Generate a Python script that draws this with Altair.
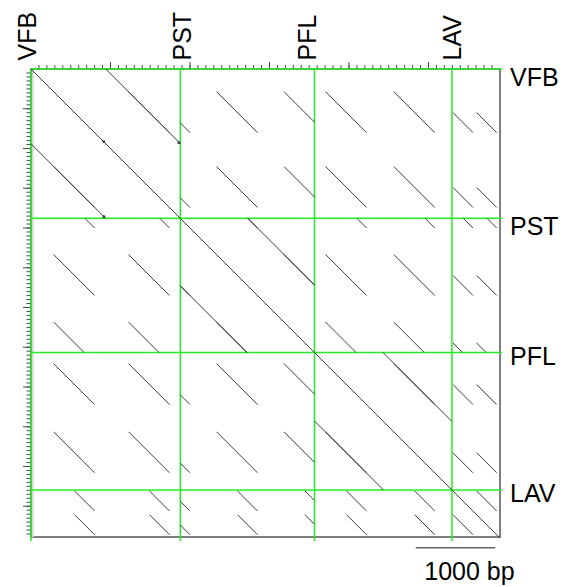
import altair as alt
import pandas as pd

# ---- data (bp) ----
block_names = ["VFB", "PST", "PFL", "LAV"]
block_starts = [0, 1878, 3566, 5295]
seq_length = 5900
y_extent = 5887

# repeated motif instances: motif end (anchor), visible start, visible end
motif_anchor = [800, 1742, 2000, 2849, 3698, 4221, 5079, 5560, 5858]
motif_from = [285, 1227, 1878, 2334, 3183, 3706, 4564, 5308, 5606]
motif_to = [800, 1742, 2000, 2849, 3566, 4221, 5079, 5560, 5858]

# tandem duplications inside a block: x start, x end, period
tandem_from = [940, 2727, 4428]
tandem_to = [1878, 3566, 5295]
tandem_period = [940, 849, 862]

# dark spots
spot_x = [1860, 916, 916]
spot_y = [927, 1858, 915]

# axis ticks (bp)
top_minor = list(range(100, 5801, 100))
top_major = list(range(1000, 5801, 1000))
left_minor = list(range(50, 5851, 50))
left_major = list(range(500, 5851, 500))

scale_bar_start = 4840
scale_bar_len = 1000
scale_bar_label = "1000 bp"

# ---- build segment table ----
segs = [(0, 0, seq_length, seq_length)]
for a, b, p in zip(tandem_from, tandem_to, tandem_period):
    segs.append((a, a - p, b, b - p))
    segs.append((a - p, a, b - p, b))
n = len(motif_anchor)
for i in range(n):
    for j in range(i + 1, n):
        lo = max(motif_from[i] - motif_anchor[i], motif_from[j] - motif_anchor[j])
        hi = min(motif_to[i] - motif_anchor[i], motif_to[j] - motif_anchor[j])
        if hi > lo:
            segs.append((motif_anchor[j] + lo, motif_anchor[i] + lo,
                         motif_anchor[j] + hi, motif_anchor[i] + hi))
            segs.append((motif_anchor[i] + lo, motif_anchor[j] + lo,
                         motif_anchor[i] + hi, motif_anchor[j] + hi))
seg_df = pd.DataFrame(segs, columns=["x", "y", "x2", "y2"])

FONT = "Liberation Sans"
W, H = 469, 468
xs = alt.Scale(domain=[0, seq_length], nice=False, zero=False)
ys = alt.Scale(domain=[0, y_extent], nice=False, zero=False, reverse=True)


def X(f):
    return alt.X(f, type="quantitative", scale=xs, axis=None)


def Y(f):
    return alt.Y(f, type="quantitative", scale=ys, axis=None)


bounds_df = pd.DataFrame({"pos": block_starts, "name": block_names})

tick_color = "#4a4a4a"
ticks = []
for vals, size in [(top_minor, 4), (top_major, 7)]:
    ticks.append(alt.Chart(pd.DataFrame({"t": vals})).mark_rule(color=tick_color, strokeWidth=1).encode(
        x=X("t"), y=alt.value(-size), y2=alt.value(0)))
for vals, size in [(left_minor, 4.5), (left_major, 8)]:
    ticks.append(alt.Chart(pd.DataFrame({"t": vals})).mark_rule(color=tick_color, strokeWidth=1).encode(
        y=Y("t"), x=alt.value(-size), x2=alt.value(0)))

green = "#22f022"
vlines = alt.Chart(bounds_df).mark_rule(color=green, strokeWidth=1.5).encode(
    x=X("pos"), y=alt.value(0), y2=alt.value(472))
hlines = alt.Chart(bounds_df).mark_rule(color=green, strokeWidth=1.5).encode(
    y=Y("pos"), x=alt.value(0), x2=alt.value(471))

band = alt.Chart(bounds_df.head(1)).mark_rule(color="#d8d8d8", strokeWidth=2).encode(
    x=alt.value(1.8), y=alt.value(0.8), y2=alt.value(H))

dots = alt.Chart(seg_df).mark_rule(color="#3c3c3c", strokeWidth=1).encode(
    x=X("x"), y=Y("y"), x2="x2:Q", y2="y2:Q")

spots = alt.Chart(pd.DataFrame({"x": spot_x, "y": spot_y})).mark_square(
    size=7, color="#333", opacity=0.9).encode(x=X("x"), y=Y("y"))

top_label_shift = [4.5, 10.7, 1.7, 9]
right_label_shift = [17.2, 17, 12.3, 12]

labels = []
for i in range(len(block_names)):
    d = bounds_df.iloc[[i]]
    labels.append(alt.Chart(d).mark_text(
        angle=270, align="left", baseline="alphabetic", dy=top_label_shift[i],
        fontSize=25, font=FONT, color="black").encode(
        x=X("pos"), y=alt.value(-8.5), text="name:N"))
    labels.append(alt.Chart(d).mark_text(
        align="left", baseline="alphabetic", dy=right_label_shift[i],
        fontSize=25, font=FONT, color="black").encode(
        x=alt.value(479), y=Y("pos"), text="name:N"))

bar_df = pd.DataFrame({"start": [scale_bar_start], "end": [scale_bar_start + scale_bar_len],
                       "mid": [scale_bar_start + scale_bar_len / 2], "label": [scale_bar_label]})
bar = alt.Chart(bar_df).mark_rule(color="#666", strokeWidth=1.6).encode(
    x=X("start"), x2="end:Q", y=alt.value(478.7))
bar_text = alt.Chart(bar_df).mark_text(
    align="center", baseline="alphabetic", dx=14, fontSize=25, font=FONT, color="black").encode(
    x=X("mid"), y=alt.value(510.5), text="label:N")

chart = alt.layer(band, *ticks, vlines, hlines, dots, spots, bar, bar_text, *labels).properties(
    width=W, height=H,
    autosize=alt.AutoSizeParams(type="none"),
    padding={"left": 23, "top": 61, "right": 68, "bottom": 50},
).configure_view(stroke="#555", strokeWidth=1.5)

chart.save("out.html", embed_options={"renderer": "svg", "actions": False})
